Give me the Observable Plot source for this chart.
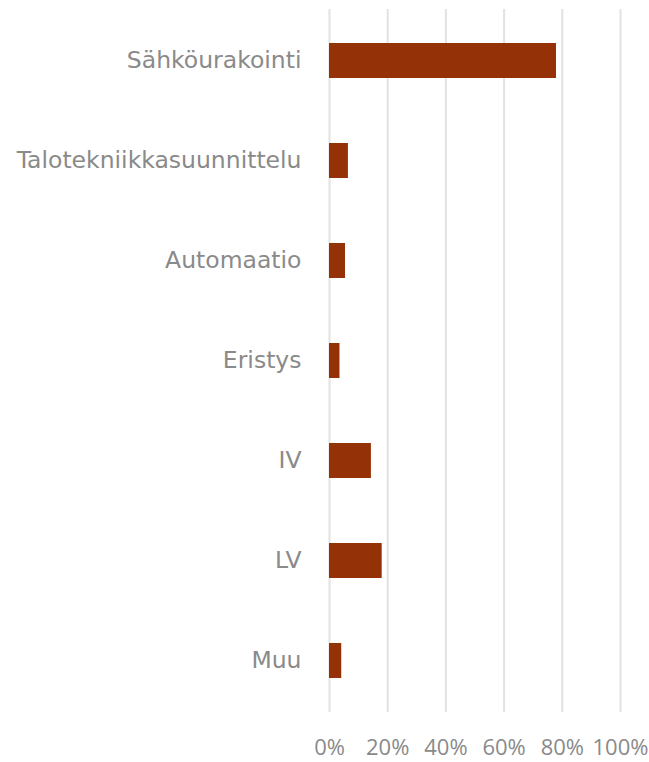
<!DOCTYPE html>
<html>
<head>
<meta charset="utf-8">
<script src="https://cdn.jsdelivr.net/npm/d3@7"></script>
<script src="https://cdn.jsdelivr.net/npm/@observablehq/plot@0.6"></script>
<style>
  html, body { margin: 0; padding: 0; background: #ffffff; }
  #chart svg { display: block; }
</style>
</head>
<body>
<div id="chart"></div>
<script>
const categories = ["Sähköurakointi", "Talotekniikkasuunnittelu", "Automaatio", "Eristys", "IV", "LV", "Muu"];
const values = [78, 6.5, 5.5, 3.6, 14.4, 18.1, 4.2];
const xTicks = [0, 20, 40, 60, 80, 100];

const data = categories.map((c, i) => ({category: c, value: values[i]}));

const chart = Plot.plot({
  width: 649,
  height: 762,
  marginTop: 9,
  marginBottom: 50,
  marginLeft: 329,
  marginRight: 29,
  style: {
    fontFamily: "'DejaVu Sans', sans-serif",
    fontSize: "23px",
    color: "#8a8a8a",
    background: "#ffffff"
  },
  x: {domain: [0, 100]},
  y: {domain: categories, paddingInner: 0.65, paddingOuter: 0.325},
  marks: [
    Plot.ruleX(xTicks, {stroke: "#e2e2e2", strokeWidth: 2}),
    Plot.barX(data, {x: "value", y: "category", fill: "#943106"}),
    Plot.axisX({ticks: xTicks, tickSize: 0, tickPadding: 27, tickFormat: d => d + "%", label: null,
      fontSize: 22, fontFamily: "'Open Sans', sans-serif"}),
    Plot.axisY({tickSize: 0, tickPadding: 28, label: null, fontSize: 23.5, dy: -1})
  ]
});
document.getElementById("chart").appendChild(chart);
</script>
</body>
</html>
